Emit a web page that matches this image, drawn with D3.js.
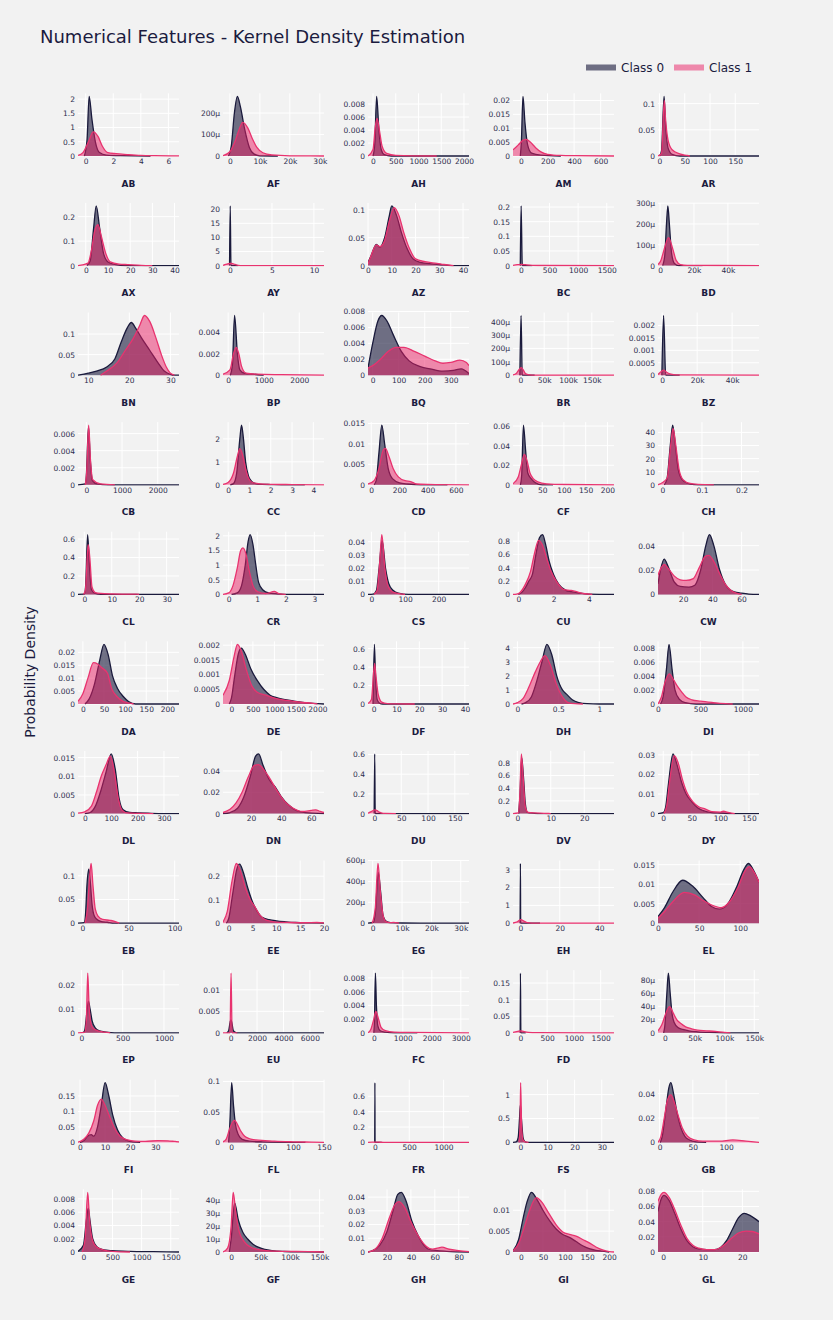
<!DOCTYPE html>
<html><head><meta charset="utf-8">
<script src="https://cdn.jsdelivr.net/npm/d3@7/dist/d3.min.js"></script>
<style>
html,body{margin:0;padding:0;background:#f2f2f2;}
svg{display:block;font-family:"DejaVu Sans",Verdana,sans-serif;}
</style></head>
<body>
<svg id="chart" width="833" height="1320"></svg>
<script>
const features = ["AB","AF","AH","AM","AR","AX","AY","AZ","BC","BD","BN","BP","BQ","BR","BZ","CB","CC","CD","CF","CH","CL","CR","CS","CU","CW","DA","DE","DF","DH","DI","DL","DN","DU","DV","DY","EB","EE","EG","EH","EL","EP","EU","FC","FD","FE","FI","FL","FR","FS","GB","GE","GF","GH","GI","GL"];

const xDomains = [[-0.56,6.77],[-2300,31400],[-110,2110],[-60,700],[-3,197],[-3.5,42],[-0.83,11.2],[0,42.5],[-137,1626],[-1200,58300],
[7.5,32.1],[-145,2696],[-18,370],[-15400,196500],[-2400,55400],[-233,2595],[-0.24,4.5],[-23,693],[-17,215],[-0.011,0.244],
[-2.3,34.5],[-0.2,3.34],[-10,290],[-0.3,5.43],[2.8,71.9],[-11.5,227.5],[-196,2154],[-2.5,41.8],[-0.054,1.18],[0,1190],
[-26,357],[1.3,68.5],[-12,176.5],[-1.3,28.9],[-9.2,167.5],[-4.7,104.7],[-1.2,20],[-1600,32800],[-3.7,47.5],[0,122.8],
[-41,1182],[-580,7070],[-200,3282],[-137,1749],[-11400,158000],[-0.8,39.5],[-13,150],[-100,1370],[-2.7,34.5],[-2.4,149.5],
[-92,1642],[-13800,157400],[4.1,88.6],[-17.8,211],[-1.3,24.2]];

const xTicks = [[0,2,4,6],[0,10000,20000,30000],[0,500,1000,1500,2000],[0,200,400,600],[0,50,100,150],[0,10,20,30,40],[0,5,10],[0,10,20,30,40],[0,500,1000,1500],[0,20000,40000],
[10,20,30],[0,1000,2000],[0,100,200,300],[0,50000,100000,150000],[0,20000,40000],[0,1000,2000],[0,1,2,3,4],[0,200,400,600],[0,50,100,150,200],[0,0.1,0.2],
[0,10,20,30],[0,1,2,3],[0,100,200],[0,2,4],[20,40,60],[0,50,100,150,200],[0,500,1000,1500,2000],[0,10,20,30,40],[0,0.5,1],[0,500,1000],
[0,100,200,300],[20,40,60],[0,50,100,150],[0,10,20],[0,50,100,150],[0,50,100],[0,5,10,15,20],[0,10000,20000,30000],[0,20,40],[0,50,100],
[0,500,1000],[0,2000,4000,6000],[0,1000,2000,3000],[0,500,1000,1500],[0,50000,100000,150000],[0,10,20,30],[0,50,100,150],[0,500,1000],[0,10,20,30],[0,50,100],
[0,500,1000,1500],[0,50000,100000,150000],[20,40,60,80],[0,50,100,150,200],[0,10,20]];

const yTicks = [[0,0.5,1,1.5,2],[0,0.0001,0.0002],[0,0.002,0.004,0.006,0.008],[0,0.005,0.01,0.015,0.02],[0,0.05,0.1],[0,0.1,0.2],[0,5,10,15,20],[0,0.05,0.1],[0,0.05,0.1,0.15,0.2],[0,0.0001,0.0002,0.0003],
[0,0.05,0.1],[0,0.002,0.004],[0,0.002,0.004,0.006,0.008],[0,0.0001,0.0002,0.0003,0.0004],[0,0.0005,0.001,0.0015,0.002],[0,0.002,0.004,0.006],[0,1,2],[0,0.005,0.01,0.015],[0,0.02,0.04,0.06],[0,10,20,30,40],
[0,0.2,0.4,0.6],[0,0.5,1,1.5,2],[0,0.01,0.02,0.03,0.04],[0,0.2,0.4,0.6,0.8],[0,0.02,0.04],[0,0.005,0.01,0.015,0.02],[0,0.0005,0.001,0.0015,0.002],[0,0.2,0.4,0.6],[0,1,2,3,4],[0,0.002,0.004,0.006,0.008],
[0,0.005,0.01,0.015],[0,0.02,0.04],[0,0.2,0.4,0.6],[0,0.2,0.4,0.6,0.8],[0,0.01,0.02,0.03],[0,0.05,0.1],[0,0.1,0.2],[0,0.0002,0.0004,0.0006],[0,1,2,3],[0,0.005,0.01,0.015],
[0,0.01,0.02],[0,0.005,0.01],[0,0.002,0.004,0.006,0.008],[0,0.05,0.1,0.15],[0,0.00002,0.00004,0.00006,0.00008],[0,0.05,0.1,0.15],[0,0.05,0.1],[0,0.2,0.4,0.6],[0,0.5,1],[0,0.02,0.04],
[0,0.002,0.004,0.006,0.008],[0,0.00001,0.00002,0.00003,0.00004],[0,0.01,0.02,0.03,0.04],[0,0.005,0.01],[0,0.02,0.04,0.06,0.08]];

const class0 = [
[[-0.1,0],[0.1,0.6],[0.25,2.1],[0.45,1.3],[0.7,0.5],[1.0,0.12],[1.5,0.03],[2.5,0.01],[4.7,0]],
[[-500,0],[500,0.00005],[1500,0.0002],[2500,0.000278],[3500,0.00023],[5000,0.00012],[6500,0.00004],[8000,0.00001],[10000,0.000001],[16000,0]],
[[0,0],[40,0.002],[80,0.0092],[130,0.004],[180,0.001],[250,0.0002],[400,0],[2110,0]],
[[-5,0],[3,0.005],[15,0.0215],[30,0.012],[50,0.004],[80,0.001],[150,0.0003],[300,0]],
[[0,0],[4,0.01],[9,0.114],[12,0.06],[17,0.015],[25,0.003],[40,0],[197,0]],
[[0.5,0],[2,0.02],[3.5,0.15],[4.7,0.244],[6.3,0.15],[8,0.05],[10,0.015],[13,0.005],[18,0],[42,0]],
[[-0.05,0],[0.03,21.2],[0.12,0],[1,0]],
[[0,0.005],[1.5,0.02],[3.5,0.038],[5,0.033],[7,0.05],[9,0.09],[10,0.107],[12,0.09],[14,0.06],[16.5,0.03],[19,0.012],[22,0.006],[27,0.003],[30,0.002],[35,0],[42.5,0]],
[[-10,0],[5,0.204],[25,0],[200,0]],
[[1500,0],[2800,0.00005],[3800,0.0002],[4600,0.000287],[5500,0.0002],[6800,0.00006],[8500,0.00001],[11000,0],[25000,0]],
[[7.5,0],[10,0.005],[12,0.01],[14.5,0.02],[16.5,0.04],[18,0.08],[19.5,0.115],[20.5,0.128],[21.5,0.115],[23,0.09],[25,0.06],[27,0.03],[28.5,0.01],[30,0.002],[31,0],[32.1,0]],
[[60,0],[120,0.001],[180,0.0056],[260,0.002],[330,0.0005],[450,0.0002],[700,0.0001],[1000,0]],
[[-18,0.0009],[0,0.004],[20,0.0068],[35,0.0075],[55,0.0068],[80,0.005],[110,0.003],[140,0.0018],[180,0.0011],[220,0.0008],[270,0.0005],[310,0.0006],[340,0.0008],[370,0.0002]],
[[-1000,0],[1500,0.000446],[4000,0],[30000,0]],
[[-200,0],[800,0.0024],[2000,0],[10000,0]],
[[-233,0],[-30,0.0001],[0,0.001],[60,0.0068],[110,0.003],[170,0.0005],[300,0.0001],[600,0],[2595,0]],
[[0.1,0],[0.25,0.05],[0.4,0.5],[0.55,2.0],[0.63,2.6],[0.72,2.0],[0.82,1.0],[0.95,0.4],[1.1,0.15],[1.3,0.05],[1.6,0.02],[2,0.01],[2.5,0],[3.6,0]],
[[20,0],[35,0.001],[55,0.008],[75,0.0146],[95,0.01],[120,0.004],[150,0.0015],[200,0.0005],[260,0.0002],[350,0],[540,0]],
[[0,0],[3,0.01],[7,0.061],[12,0.035],[17,0.012],[25,0.006],[35,0.002],[50,0],[75,0]],
[[0.005,0],[0.012,5],[0.02,30],[0.026,45.6],[0.033,30],[0.04,12],[0.05,4],[0.065,1],[0.08,0.2],[0.1,0],[0.244,0]],
[[-2.3,0],[0,0.002],[0.5,0.1],[1.2,0.647],[1.9,0.3],[2.6,0.05],[4,0.01],[6,0],[34.5,0]],
[[0.1,0],[0.3,0.05],[0.45,0.3],[0.58,1.0],[0.68,1.8],[0.75,2.04],[0.85,1.7],[0.95,1.0],[1.05,0.4],[1.2,0.15],[1.4,0.05],[1.7,0.02],[2.2,0],[3.34,0]],
[[-10,0],[5,0.0002],[15,0.003],[23,0.02],[32,0.0407],[42,0.02],[52,0.008],[65,0.003],[80,0.001],[110,0],[290,0]],
[[0,0],[0.2,0.03],[0.4,0.1],[0.6,0.2],[0.8,0.3],[1.0,0.6],[1.2,0.85],[1.38,0.896],[1.55,0.75],[1.75,0.5],[2.0,0.3],[2.3,0.15],[2.7,0.06],[3.0,0.04],[3.5,0.02],[4,0.005],[5.43,0]],
[[2.8,0.0087],[4.5,0.02],[7,0.029],[10,0.022],[14,0.01],[18,0.0065],[24,0.006],[28,0.0075],[32,0.02],[35.5,0.04],[38,0.049],[41,0.04],[45,0.02],[49,0.008],[55,0.002],[60,0.001],[65,0.0003],[71.9,0]],
[[5,0],[15,0.002],[28,0.008],[40,0.017],[50,0.0231],[60,0.019],[70,0.011],[82,0.006],[95,0.003],[108,0.001],[125,0],[227.5,0]],
[[-50,0],[0,0.0002],[80,0.001],[160,0.0017],[230,0.0019],[320,0.0017],[450,0.0012],[600,0.0008],[750,0.0005],[900,0.0003],[1050,0.00022],[1250,0.00015],[1450,0.0001],[1700,0.00005],[1900,0.00002],[2154,0]],
[[-0.3,0],[0.3,0.647],[0.8,0.3],[1.5,0.05],[2.5,0.01],[4,0],[41.8,0]],
[[0.05,0],[0.1,0.1],[0.17,0.5],[0.23,1.5],[0.3,3.0],[0.36,4.24],[0.42,3.5],[0.48,2.0],[0.55,1.0],[0.6,0.7],[0.67,0.3],[0.75,0.1],[0.85,0.02],[1.0,0],[1.18,0]],
[[30,0],[60,0.001],[100,0.005],[130,0.0085],[165,0.005],[200,0.002],[250,0.0007],[320,0.0002],[450,0],[1190,0]],
[[0,0],[20,0.0003],[40,0.002],[60,0.006],[80,0.011],[100,0.016],[115,0.012],[130,0.004],[145,0.001],[170,0.0003],[200,0.0002],[240,0.0001],[300,0],[357,0]],
[[1.3,0],[6,0.001],[11,0.005],[15,0.015],[19.5,0.035],[23,0.054],[25,0.056],[28,0.045],[32,0.032],[36,0.025],[40,0.016],[45,0.008],[50,0.003],[56,0.001],[68.5,0]],
[[-0.5,0],[0.5,0.606],[1.5,0],[176.5,0]],
[[0.4,0],[0.8,0.3],[1.3,0.88],[1.8,0.6],[2.4,0.15],[3,0.02],[4,0.01],[6,0],[28.9,0]],
[[-9.2,0],[0,0.0005],[4,0.003],[9,0.015],[17,0.0305],[24,0.025],[32,0.016],[40,0.01],[50,0.006],[60,0.003],[70,0.0015],[85,0.0005],[100,0.0003],[120,0],[167.5,0]],
[[-4.7,0],[2,0.001],[3.5,0.02],[5,0.08],[7,0.114],[8.5,0.09],[10.5,0.04],[13,0.015],[16,0.008],[20,0.004],[27,0.002],[35,0],[104.7,0]],
[[-0.5,0],[0,0.02],[0.8,0.12],[1.7,0.23],[2.3,0.251],[3,0.22],[4,0.15],[5,0.09],[6,0.05],[7,0.025],[8.5,0.015],[10,0.01],[12,0.006],[14,0.003],[17,0.001],[20,0]],
[[-1600,0],[300,0.00001],[900,0.0001],[1900,0.000486],[2700,0.0003],[3500,0.00008],[4500,0.00002],[6000,0.000005],[10000,0.000002],[20000,0.000001],[32800,0]],
[[-0.1,0],[0.05,3.35],[0.2,0],[10,0]],
[[0,0.0017],[8,0.004],[18,0.008],[30,0.011],[42,0.0095],[55,0.0065],[65,0.0043],[75,0.0036],[85,0.005],[95,0.009],[105,0.014],[110,0.0153],[115,0.014],[122.8,0.0105]],
[[20,0],[40,0.001],[65,0.008],[85,0.0132],[105,0.01],[130,0.005],[170,0.002],[220,0.0008],[300,0.0003],[400,0],[1182,0]],
[[-300,0],[-150,0.0005],[-40,0.0025],[20,0.003],[80,0.0025],[200,0.0005],[350,0.0001],[500,0],[7070,0]],
[[0,0],[25,0.002],[55,0.0087],[90,0.004],[140,0.001],[220,0.0003],[400,0.0001],[700,0],[1500,0]],
[[-3,0],[2,0.18],[10,0],[100,0]],
[[-2000,0],[0,0.00001],[3500,0.00006],[6000,0.00009],[9000,0.00006],[12000,0.00003],[16000,0.000015],[22000,0.000008],[30000,0.000005],[40000,0.000003],[55000,0.0000015],[75000,0.0000005],[100000,0],[158000,0]],
[[0,0],[1.5,0.005],[3,0.02],[4.5,0.025],[5.5,0.02],[7,0.05],[8.5,0.12],[10,0.193],[11.5,0.15],[13,0.09],[15,0.04],[17,0.015],[19,0.006],[21,0.002],[24,0]],
[[-4,0],[-2,0.03],[1,0.098],[4,0.06],[7,0.03],[12,0.012],[18,0.005],[30,0.002],[50,0.001],[120,0]],
[[-2,0],[0.5,0.776],[3,0],[100,0]],
[[-2.7,0],[-1.5,0.01],[-0.8,0.1],[-0.3,0.5],[0,0.78],[0.4,0.5],[1.0,0.1],[1.6,0.02],[2.5,0],[34.5,0]],
[[1,0],[4,0.005],[9,0.025],[14,0.045],[17,0.049],[21,0.04],[26,0.025],[32,0.012],[38,0.005],[45,0.002],[55,0.0005],[70,0]],
[[-92,0.0001],[0,0.001],[55,0.005],[85,0.0066],[110,0.005],[160,0.002],[230,0.0008],[350,0.0003],[500,0.0002],[800,0.0001],[1200,0.00005],[1642,0]],
[[-3000,0],[0,0.00001],[6000,0.0000377],[12000,0.000025],[20000,0.000015],[28000,0.00001],[37000,0.000006],[47000,0.0000035],[57000,0.000002],[70000,0.000001],[90000,0.0000004],[120000,0.0000001],[157400,0]],
[[4.1,0],[8,0.001],[14,0.005],[20,0.015],[25,0.03],[29,0.042],[32,0.0435],[36,0.037],[41,0.022],[46,0.012],[50,0.006],[55,0.002],[62,0.001],[70,0.0005],[88.6,0]],
[[-17.8,0.0003],[-5,0.003],[5,0.008],[14,0.012],[24,0.0143],[37,0.0125],[50,0.01],[65,0.0075],[80,0.0055],[95,0.0042],[110,0.0035],[125,0.0025],[140,0.0015],[155,0.0008],[170,0.0004],[185,0.0002],[200,0]],
[[-1.3,0.0535],[-0.5,0.07],[0.2,0.0747],[1.5,0.068],[3,0.05],[4.5,0.03],[6,0.015],[7.5,0.007],[9,0.004],[11,0.003],[13,0.003],[14.5,0.006],[16,0.015],[17.5,0.03],[19,0.045],[20.5,0.051],[22,0.048],[24.2,0.04]]
];

const class1 = [
[[-0.56,0.02],[-0.2,0.12],[0.2,0.5],[0.55,0.85],[0.9,0.68],[1.2,0.35],[1.6,0.12],[2.2,0.08],[3,0.05],[4,0.02],[5,0.01],[6.77,0.004]],
[[-2300,0.000002],[0,0.00002],[1500,0.00006],[3000,0.00012],[4300,0.000157],[6000,0.00013],[7500,0.00008],[9000,0.00004],[11000,0.000015],[14000,0.000005],[20000,0.000001],[31400,0]],
[[-110,0],[0,0.001],[50,0.0045],[90,0.0058],[140,0.004],[200,0.0015],[300,0.0004],[500,0.0001],[1400,0]],
[[-60,0.0022],[-20,0.004],[20,0.0058],[40,0.006],[70,0.005],[110,0.003],[150,0.0015],[200,0.0006],[300,0.0002],[400,0.0001],[700,0]],
[[-3,0],[4,0.005],[9.5,0.106],[12,0.07],[17,0.03],[25,0.012],[40,0.004],[55,0.001],[60,0]],
[[-3.5,0],[1,0.01],[2.5,0.06],[4,0.14],[5.5,0.167],[7,0.12],[9,0.05],[11,0.015],[15,0.006],[19,0.004],[25,0.001],[30,0]],
[[-0.83,0.05],[-0.5,0.4],[0,0.8],[0.2,0.8],[0.6,0.4],[1.0,0.1],[1.5,0.02],[3,0],[11.2,0]],
[[0,0.003],[1.5,0.02],[3.5,0.037],[5,0.034],[7,0.045],[9,0.08],[11,0.104],[13,0.09],[15,0.06],[17.5,0.03],[20,0.012],[24,0.007],[29,0.004],[32,0.002],[36,0]],
[[-137,0.001],[-60,0.003],[10,0.0045],[80,0.003],[200,0.001],[400,0.0003],[1626,0]],
[[-1200,0.000005],[500,0.000025],[2500,0.00008],[5000,0.000134],[7500,0.00008],[9500,0.000025],[12000,0.000005],[16000,0.000001],[58300,0]],
[[13,0],[14.5,0.01],[17,0.03],[19,0.06],[21,0.09],[22.5,0.12],[23.7,0.145],[25,0.13],[26.5,0.09],[27.8,0.05],[29,0.02],[30,0.005],[31,0]],
[[-145,0.0001],[50,0.0005],[150,0.002],[225,0.0026],[300,0.002],[380,0.0008],[500,0.0002],[800,0.0001],[1500,0.00005],[2696,0]],
[[-18,0.0009],[0,0.0012],[30,0.002],[60,0.003],[90,0.0035],[120,0.0035],[160,0.003],[200,0.0024],[240,0.0018],[270,0.0015],[300,0.0016],[335,0.0019],[360,0.0016],[370,0.0012]],
[[-15400,0.000002],[-8000,0.000015],[-2000,0.000045],[2000,0.000056],[6000,0.00004],[10000,0.000015],[16000,0.000004],[25000,0.000001],[196500,0]],
[[-2400,0.00003],[-500,0.00015],[800,0.0002],[2500,0.00012],[5000,0.00004],[8000,0.00001],[55400,0]],
[[-30,0],[10,0.0015],[65,0.007],[115,0.003],[180,0.0006],[400,0.0001],[800,0]],
[[-0.24,0.02],[0,0.1],[0.25,0.5],[0.45,1.3],[0.55,1.57],[0.68,1.3],[0.82,0.7],[0.95,0.3],[1.15,0.1],[1.5,0.04],[2,0.02],[3,0.01],[4.5,0]],
[[-23,0.0002],[20,0.001],[55,0.004],[85,0.0085],[100,0.0089],[125,0.007],[155,0.004],[190,0.002],[240,0.001],[280,0.0008],[320,0.0002],[400,0.0001],[693,0]],
[[-17,0.001],[-5,0.008],[2,0.02],[9,0.031],[15,0.025],[22,0.012],[30,0.006],[40,0.003],[60,0.001],[100,0.0003],[215,0]],
[[-0.011,0],[0.012,5],[0.021,30],[0.027,43],[0.034,30],[0.042,12],[0.052,4],[0.07,1],[0.09,0.3],[0.13,0]],
[[-0.3,0],[0.4,0.05],[1.4,0.54],[2,0.4],[2.8,0.08],[4,0.02],[6,0.01],[10,0.005],[15,0.003],[19,0.002],[20,0]],
[[-0.2,0],[0,0.05],[0.15,0.3],[0.3,0.9],[0.42,1.5],[0.5,1.59],[0.6,1.4],[0.72,0.8],[0.85,0.3],[1.0,0.1],[1.3,0.03],[1.6,0.1],[1.75,0.03],[2.0,0]],
[[8,0],[17,0.003],[25,0.025],[31,0.0453],[40,0.02],[50,0.006],[62,0.002],[75,0.001],[100,0]],
[[-0.3,0],[-0.1,0.005],[0.1,0.03],[0.4,0.15],[0.7,0.35],[0.95,0.65],[1.15,0.81],[1.35,0.75],[1.6,0.55],[1.85,0.35],[2.2,0.18],[2.6,0.07],[3.0,0.06],[3.3,0.04],[3.8,0.01],[4.2,0]],
[[2.8,0.016],[5,0.022],[7,0.0247],[10,0.021],[14,0.015],[18,0.012],[22,0.0115],[27,0.013],[31,0.022],[35,0.031],[37.5,0.032],[41,0.027],[45,0.017],[49,0.008],[53,0.003],[57,0.0008],[60,0]],
[[-11.5,0.001],[0,0.004],[12,0.01],[25,0.016],[35,0.0155],[45,0.014],[58,0.012],[68,0.006],[80,0.003],[95,0.001],[110,0.0003],[120,0]],
[[-196,0.0003],[-50,0.0008],[60,0.0016],[140,0.00203],[230,0.0018],[340,0.0012],[480,0.0006],[600,0.0004],[800,0.0003],[1000,0.0002],[1300,0.00012],[1600,0.00006],[1900,0.00002],[2000,0]],
[[-2.5,0.005],[-1,0.05],[0.4,0.44],[1.0,0.3],[2,0.1],[3.5,0.02],[6,0.005],[10,0.002],[18,0]],
[[-0.054,0],[0,0.1],[0.07,0.4],[0.14,1.2],[0.22,2.3],[0.28,3.0],[0.335,3.43],[0.4,2.8],[0.47,1.5],[0.55,0.5],[0.62,0.1],[0.7,0.02],[0.8,0]],
[[0,0],[10,0.0002],[40,0.001],[80,0.003],[135,0.0043],[180,0.0035],[230,0.0025],[280,0.0017],[330,0.001],[400,0.0006],[500,0.0004],[650,0.0002],[800,0.00005],[880,0]],
[[-26,0.0001],[0,0.0005],[25,0.002],[45,0.006],[62,0.01],[80,0.013],[97,0.0154],[112,0.011],[127,0.004],[140,0.001],[160,0.0002],[260,0]],
[[1.3,0.001],[6,0.004],[10,0.01],[14,0.02],[18,0.034],[22,0.045],[25,0.046],[28,0.042],[32,0.034],[37,0.022],[42,0.012],[48,0.005],[54,0.002],[60,0.003],[63,0.0035],[66,0.002],[68.5,0.001]],
[[-12,0.003],[-6,0.02],[1,0.037],[5,0.03],[9,0.015],[14,0.005],[20,0.002],[40,0]],
[[-1.3,0],[0.3,0.01],[0.75,0.3],[1.2,0.94],[1.7,0.6],[2.4,0.1],[3.2,0.02],[5,0.01],[8,0.005],[10,0]],
[[1,0],[6,0.004],[11,0.016],[19,0.0296],[26,0.026],[33,0.018],[41,0.011],[52,0.006],[62,0.0035],[72,0.0025],[85,0.001],[100,0.0008],[105,0.0012],[115,0.0005],[125,0]],
[[3,0],[5.5,0.03],[8,0.1],[9.5,0.126],[11.5,0.08],[14,0.03],[17,0.015],[22,0.008],[30,0.006],[35,0.004],[40,0]],
[[-1.2,0.005],[-0.3,0.05],[0.7,0.18],[1.6,0.254],[2.5,0.22],[3.5,0.15],[4.5,0.1],[5.5,0.07],[6.5,0.035],[8,0.012],[10,0.005],[13,0.003],[16,0.002],[18.5,0.003],[20,0.001]],
[[-200,0],[900,0.00015],[1800,0.000571],[2600,0.0003],[3500,0.00008],[4500,0.000015],[6000,0.000005],[7000,0.000008],[9000,0]],
[[-3.7,0.01],[-1.5,0.08],[0.3,0.2],[1.8,0.12],[3.5,0.03],[6,0.005],[47.5,0]],
[[0,0.0013],[8,0.003],[18,0.0055],[32,0.0079],[45,0.0072],[55,0.0058],[66,0.0046],[77,0.004],[87,0.0055],[97,0.009],[106,0.0135],[111,0.0145],[117,0.013],[122.8,0.0105]],
[[-41,0],[40,0.0002],[60,0.005],[77,0.0249],[92,0.012],[110,0.005],[140,0.002],[200,0.0008],[280,0.0003],[350,0]],
[[-580,0],[-50,0],[30,0.0139],[110,0],[500,0]],
[[-200,0],[-100,0.0005],[0,0.002],[70,0.0031],[150,0.0022],[250,0.0008],[400,0.0003],[700,0.0001],[1200,0.00005],[3282,0]],
[[-137,0.001],[-50,0.004],[5,0.006],[60,0.004],[150,0.0015],[300,0.0005],[1749,0]],
[[-11400,0.000003],[-5000,0.000012],[2000,0.00003],[8000,0.0000395],[14000,0.00003],[20000,0.00002],[27000,0.000014],[35000,0.000009],[45000,0.000006],[55000,0.000004],[70000,0.000003],[85000,0.000002],[100000,0.0000005],[110000,0]],
[[-0.8,0.001],[1.5,0.01],[3.5,0.03],[5.5,0.07],[7,0.12],[8.5,0.14],[10,0.12],[11.5,0.09],[13.5,0.05],[16,0.02],[19,0.008],[22,0.004],[26,0.003],[31,0.006],[35,0.005],[38,0.003],[39.5,0.002]],
[[-13,0.001],[-8,0.005],[-3,0.02],[3,0.034],[6,0.036],[10,0.03],[16,0.018],[22,0.01],[30,0.006],[40,0.004],[55,0.003],[70,0.002],[100,0.001],[130,0.0005],[150,0]],
[[-100,0.001],[-40,0.003],[5,0.004],[50,0.003],[130,0.001],[300,0.0002],[1370,0]],
[[-0.5,0],[-0.1,0.3],[0.1,1.25],[0.5,0.3],[1.0,0.05],[1.8,0.01],[3,0]],
[[-2.4,0],[2,0.005],[7,0.02],[12,0.035],[17,0.039],[22,0.033],[28,0.022],[34,0.012],[42,0.005],[52,0.002],[65,0.001],[90,0.001],[110,0.002],[130,0.001],[149.5,0]],
[[-20,0],[30,0.002],[75,0.009],[105,0.005],[150,0.002],[220,0.0008],[350,0.0003],[500,0.0001],[800,0]],
[[-13800,0],[-6000,0.000003],[0,0.00002],[3500,0.000046],[8000,0.00003],[14000,0.000015],[22000,0.000008],[32000,0.000004],[45000,0.000002],[60000,0.000001],[90000,0.0000005],[130000,0.0000003],[157400,0]],
[[4.1,0],[10,0.002],[16,0.01],[22,0.025],[27,0.035],[30,0.0367],[35,0.032],[40,0.022],[46,0.012],[53,0.004],[58,0.002],[63,0.003],[66,0.0035],[72,0.002],[80,0.001],[88.6,0.0003]],
[[-17.8,0.0003],[-5,0.002],[8,0.006],[20,0.01],[35,0.013],[47,0.012],[62,0.0095],[80,0.0065],[95,0.0048],[110,0.0042],[125,0.0038],[140,0.003],[155,0.0022],[170,0.0012],[185,0.0005],[200,0.0001],[211,0]],
[[-1.3,0.067],[-0.5,0.076],[0.2,0.0787],[1.5,0.072],[3,0.055],[4.5,0.035],[6,0.018],[7.5,0.009],[9,0.005],[11,0.003],[13,0.003],[14.5,0.006],[16,0.012],[17.5,0.019],[19,0.025],[21,0.0275],[22.5,0.027],[24.2,0.024]]
];

const seriesNames = ["Class 0","Class 1"];
const chartTitle = "Numerical Features - Kernel Density Estimation";
const yAxisTitle = "Probability Density";

// ---- styling ----
const FONT = "'DejaVu Sans',Verdana,sans-serif";
const ink = "#1b1b3f";
const tickInk = "#2d2d4d";
const lineCol = ["#1a1a3c","#e8336f"];
const fillCol = ["rgba(22,22,56,0.6)","rgba(233,30,99,0.5)"];

const svg = d3.select("#chart");
svg.append("rect").attr("width",833).attr("height",1320).attr("fill","#f2f2f2");

function fmt(v, ticks){
  if (v === 0) return "0";
  const m = d3.max(ticks, t => Math.abs(t));
  if (m >= 10000) return (+(v/1000).toPrecision(6)) + "k";
  if (m < 0.001) return Math.round(v*1e6) + "μ";
  return String(+v.toPrecision(6));
}

const ncol = 5, pw = 101, ph = 62.7;
features.forEach((name, i) => {
  const r = Math.floor(i / ncol), c = i % ncol;
  const x0 = 78 + 145 * c, y0 = 93.3 + 109.6 * r;
  const x = d3.scaleLinear().domain(xDomains[i]).range([x0, x0 + pw]);
  const ymax = d3.max(class0[i].concat(class1[i]), d => d[1]) * 1.05;
  const y = d3.scaleLinear().domain([0, ymax]).range([y0 + ph, y0]);
  const g = svg.append("g");

  // grid
  const xt = xTicks[i].filter(t => t >= xDomains[i][0] && t <= xDomains[i][1]);
  g.append("g").selectAll("line").data(xt).join("line")
    .attr("x1", d => x(d)).attr("x2", d => x(d)).attr("y1", y0).attr("y2", y0 + ph)
    .attr("stroke", "#ffffff").attr("stroke-width", 1);
  g.append("g").selectAll("line").data(yTicks[i]).join("line")
    .attr("x1", x0).attr("x2", x0 + pw).attr("y1", d => y(d)).attr("y2", d => y(d))
    .attr("stroke", "#ffffff").attr("stroke-width", 1);

  const cid = "clip" + i;
  svg.append("clipPath").attr("id", cid).append("rect")
    .attr("x", x0).attr("y", y0 - 1).attr("width", pw).attr("height", ph + 2);
  const pg = g.append("g").attr("clip-path", `url(#${cid})`);

  const area = d3.area().x(d => x(d[0])).y0(y(0)).y1(d => y(d[1])).curve(d3.curveMonotoneX);
  const line = d3.line().x(d => x(d[0])).y(d => y(d[1])).curve(d3.curveMonotoneX);
  [class0[i], class1[i]].forEach((pts, k) => {
    pg.append("path").attr("d", area(pts)).attr("fill", fillCol[k]).attr("stroke", "none");
    pg.append("path").attr("d", line(pts)).attr("fill", "none")
      .attr("stroke", lineCol[k]).attr("stroke-width", 1.3).attr("stroke-linejoin", "round");
  });

  // axes
  const ax = g.append("g").attr("transform", `translate(0,${y0 + ph})`)
    .call(d3.axisBottom(x).tickValues(xt).tickSize(0).tickPadding(2.5).tickFormat(d => fmt(d, xTicks[i])));
  ax.select(".domain").remove();
  ax.selectAll("text").attr("font-size", 7.5).attr("fill", tickInk).attr("font-family", FONT);
  const ay = g.append("g").attr("transform", `translate(${x0},0)`)
    .call(d3.axisLeft(y).tickValues(yTicks[i]).tickSize(0).tickPadding(3).tickFormat(d => fmt(d, yTicks[i])));
  ay.select(".domain").remove();
  ay.selectAll("text").attr("font-size", 7.5).attr("fill", tickInk).attr("font-family", FONT);

  g.append("text").attr("x", x0 + pw / 2).attr("y", y0 + ph + 30.5)
    .attr("text-anchor", "middle").attr("font-family", FONT)
    .attr("font-weight", "bold").attr("font-size", 9).attr("fill", ink).text(name);
});

// title
svg.append("text").attr("x", 40).attr("y", 42.5).attr("font-size", 18)
  .attr("font-family", FONT).attr("fill", ink).text(chartTitle);

// y axis title
svg.append("text").attr("transform", "translate(35,672) rotate(-90)")
  .attr("text-anchor", "middle").attr("font-size", 14).attr("font-family", FONT)
  .attr("fill", ink).text(yAxisTitle);

// legend
const legX = [586, 674];
seriesNames.forEach((s, k) => {
  svg.append("rect").attr("x", legX[k]).attr("y", 64.5).attr("width", 30).attr("height", 6)
    .attr("fill", fillCol[k]);
  svg.append("text").attr("x", legX[k] + 35).attr("y", 72.3).attr("font-size", 12)
    .attr("font-family", FONT).attr("fill", ink).text(s);
});
</script>
</body></html>
